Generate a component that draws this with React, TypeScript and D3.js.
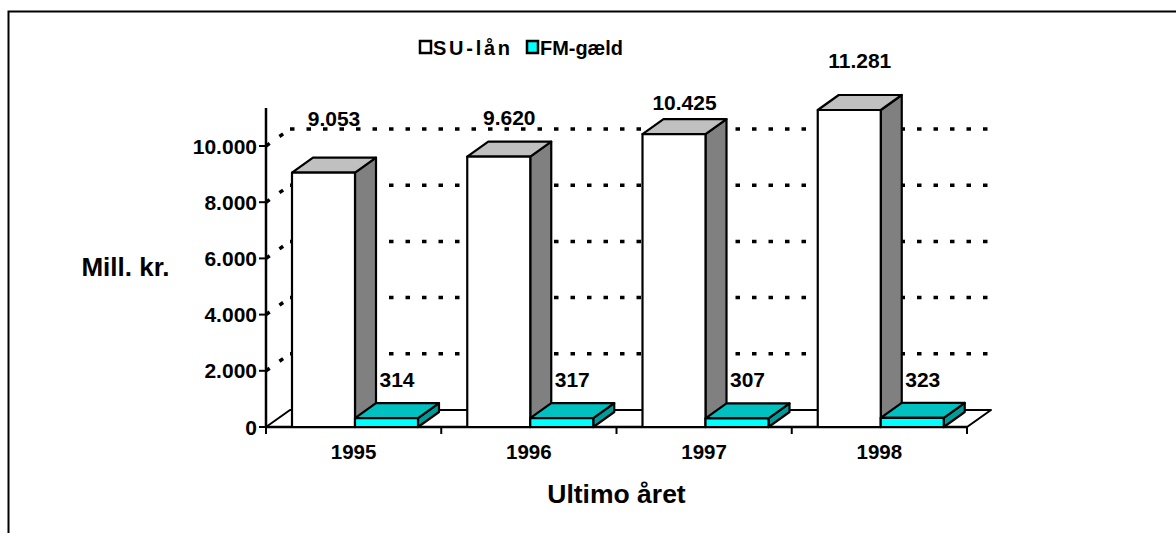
import * as d3 from 'd3'

const years = ['1995', '1996', '1997', '1998']
const seriesNames = ['SU-lån', 'FM-gæld']
const suLaan = [9053, 9620, 10425, 11281]
const fmGaeld = [314, 317, 307, 323]
const yTicks = [0, 2000, 4000, 6000, 8000, 10000]

// label lift above the front top edge (Excel puts them a bit unevenly)
const suLift = [54, 39, 32, 50]
const fmLift = 38.5

const W = 1176
const H = 533
const FONT = 'Liberation Sans, Arial, sans-serif'

const dk = d3.formatLocale({ decimal: ',', thousands: '.', grouping: [3], currency: ['', ''] })
const fmt = dk.format(',')

export default function App() {
  const x0 = 266
  const x1 = 967
  const y = d3.scaleLinear().domain([0, 10000]).range([427, 146])
  const x = d3.scaleBand().domain(years).range([x0, x1])
  const xs = d3.scaleBand().domain(seriesNames).range([26, 152])

  // depth of back wall and of bars
  const wdx = 24, wdy = -17
  const bdx = 21, bdy = -15
  const base = y(0)

  const colors = {
    'SU-lån': { front: '#ffffff', top: '#c0c0c0', side: '#808080' },
    'FM-gæld': { front: '#00ffff', top: '#00c0c0', side: '#009c9c' },
  }

  const bars: { s: string; v: number; bx: number; i: number }[] = []
  years.forEach((yr, i) => {
    bars.push({ s: 'SU-lån', v: suLaan[i], bx: x(yr)! + xs('SU-lån')!, i })
    bars.push({ s: 'FM-gæld', v: fmGaeld[i], bx: x(yr)! + xs('FM-gæld')!, i })
  })
  const bw = xs.bandwidth()

  const pts = (a: number[][]) => a.map(p => p.join(',')).join(' ')

  return (
    <svg width={W} height={H} style={{ position: 'absolute', left: 0, top: 0, background: '#fff' }}
      fontFamily={FONT} fontWeight="bold">
      {/* outer frame */}
      <polyline points={pts([[8.5, H], [8.5, 11.5], [W, 11.5]])} fill="none" stroke="#000" strokeWidth={2} />

      {/* floor */}
      <polygon points={pts([[x0, base], [x1, base], [x1 + wdx, base + wdy], [x0 + wdx, base + wdy]])}
        fill="#fff" stroke="#000" strokeWidth={2} strokeLinejoin="round" />

      {/* gridlines on back wall */}
      {yTicks.filter(t => t > 0).map(t => (
        <g key={t} stroke="#000" strokeWidth={3.5} strokeDasharray="4.5 12">
          <line x1={x0} y1={y(t)} x2={x0 + wdx} y2={y(t) + wdy} />
          <line x1={x0 + wdx} y1={y(t) + wdy} x2={x1 + wdx} y2={y(t) + wdy} />
        </g>
      ))}

      {/* y axis */}
      <line x1={x0} y1={108} x2={x0} y2={base + 1} stroke="#000" strokeWidth={2.5} />
      {yTicks.map(t => (
        <g key={t}>
          <line x1={x0 - 7} y1={y(t)} x2={x0} y2={y(t)} stroke="#000" strokeWidth={2} />
          <text x={x0 - 9} y={y(t) + 7.5} textAnchor="end" fontSize={21}>{fmt(t)}</text>
        </g>
      ))}

      {/* x axis line and ticks */}
      <line x1={x0} y1={base} x2={x1} y2={base} stroke="#000" strokeWidth={2.5} />
      {[...years.map(yr => x(yr)!), x1].map((tx, i) => (
        <line key={i} x1={tx} y1={base} x2={tx} y2={base + 7} stroke="#000" strokeWidth={2} />
      ))}
      {years.map(yr => (
        <text key={yr} x={x(yr)! + x.bandwidth() / 2} y={458.5} textAnchor="middle" fontSize={20.5}>{yr}</text>
      ))}

      {/* bars */}
      {bars.map((b, k) => {
        const c = colors[b.s as keyof typeof colors]
        const yt = y(b.v)
        return (
          <g key={k} stroke="#000" strokeWidth={2.2} strokeLinejoin="round">
            <polygon points={pts([[b.bx + bw, yt], [b.bx + bw + bdx, yt + bdy], [b.bx + bw + bdx, base + bdy], [b.bx + bw, base]])} fill={c.side} />
            <polygon points={pts([[b.bx, yt], [b.bx + bdx, yt + bdy], [b.bx + bw + bdx, yt + bdy], [b.bx + bw, yt]])} fill={c.top} />
            <rect x={b.bx} y={yt} width={bw} height={base - yt} fill={c.front} />
          </g>
        )
      })}

      {/* value labels */}
      {bars.map((b, k) => {
        const lift = b.s === 'SU-lån' ? suLift[b.i] : fmLift
        const cy = y(b.v) - lift
        return (
          <text key={k} x={b.bx + (bw + bdx) / 2} y={cy + 7.5} textAnchor="middle" fontSize={21}>{fmt(b.v)}</text>
        )
      })}

      {/* axis titles */}
      <text x={125.5} y={276} textAnchor="middle" fontSize={26}>Mill. kr.</text>
      <text x={(x0 + x1) / 2} y={503} textAnchor="middle" fontSize={26.5}>Ultimo året</text>

      {/* legend */}
      <rect x={420} y={41} width={11} height={12} fill="#fff" stroke="#000" strokeWidth={2.5} />
      <text x={433} y={54.5} fontSize={20} textLength={77} lengthAdjust="spacing">SU-lån</text>
      <rect x={527} y={41} width={11} height={12} fill="#00ffff" stroke="#000" strokeWidth={2.5} />
      <text x={540} y={54.5} fontSize={20} textLength={83} lengthAdjust="spacingAndGlyphs">FM-gæld</text>
    </svg>
  )
}
